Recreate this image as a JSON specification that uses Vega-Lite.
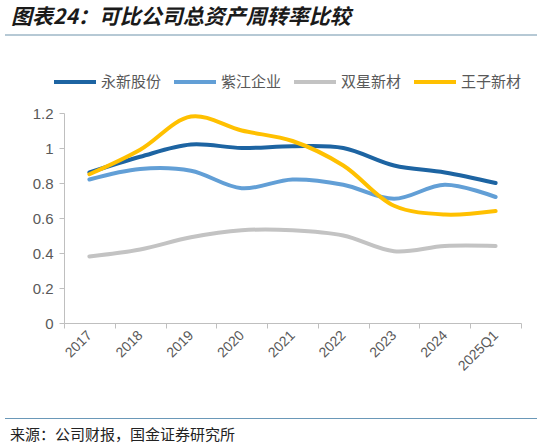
{
  "$schema": "https://vega.github.io/schema/vega-lite/v6.json",
  "background": "white",
  "padding": {"left": 5, "top": 7, "right": 5, "bottom": 0},
  "spacing": 35,
  "title": {"text": "图表24：可比公司总资产周转率比较", "anchor": "start", "frame": "bounds", "font": "Noto Sans CJK SC", "fontSize": 21, "fontWeight": "bold", "fontStyle": "italic", "color": "#1a1a1a", "offset": 6, "dx": 6},
  "config": {"view": {"stroke": null}, "font": "Liberation Sans"},
  "vconcat": [
    {
      "spacing": 70,
      "vconcat": [
        {
          "width": 532,
          "height": 2,
          "view": {"fill": "#b6c9d5", "stroke": null},
          "data": {"values": [{"k": 1}]},
          "mark": {"type": "point", "opacity": 0, "size": 0},
          "encoding": {}
        },
        {
          "spacing": 0,
          "hconcat": [
            {
              "width": 1,
              "height": 1,
              "data": {"values": [{"k": 1}]},
              "mark": {"type": "point", "opacity": 0, "size": 0},
              "encoding": {}
            },
            {
              "width": 457,
              "height": 210,
              "data": {"values": [
                {"period": "2017", "company": "永新股份", "value": 0.86},
                {"period": "2018", "company": "永新股份", "value": 0.95},
                {"period": "2019", "company": "永新股份", "value": 1.02},
                {"period": "2020", "company": "永新股份", "value": 1.00},
                {"period": "2021", "company": "永新股份", "value": 1.01},
                {"period": "2022", "company": "永新股份", "value": 1.00},
                {"period": "2023", "company": "永新股份", "value": 0.90},
                {"period": "2024", "company": "永新股份", "value": 0.86},
                {"period": "2025Q1", "company": "永新股份", "value": 0.80},
                {"period": "2017", "company": "紫江企业", "value": 0.82},
                {"period": "2018", "company": "紫江企业", "value": 0.88},
                {"period": "2019", "company": "紫江企业", "value": 0.87},
                {"period": "2020", "company": "紫江企业", "value": 0.77},
                {"period": "2021", "company": "紫江企业", "value": 0.82},
                {"period": "2022", "company": "紫江企业", "value": 0.79},
                {"period": "2023", "company": "紫江企业", "value": 0.71},
                {"period": "2024", "company": "紫江企业", "value": 0.79},
                {"period": "2025Q1", "company": "紫江企业", "value": 0.72},
                {"period": "2017", "company": "双星新材", "value": 0.38},
                {"period": "2018", "company": "双星新材", "value": 0.42},
                {"period": "2019", "company": "双星新材", "value": 0.49},
                {"period": "2020", "company": "双星新材", "value": 0.53},
                {"period": "2021", "company": "双星新材", "value": 0.53},
                {"period": "2022", "company": "双星新材", "value": 0.50},
                {"period": "2023", "company": "双星新材", "value": 0.41},
                {"period": "2024", "company": "双星新材", "value": 0.44},
                {"period": "2025Q1", "company": "双星新材", "value": 0.44},
                {"period": "2017", "company": "王子新材", "value": 0.85},
                {"period": "2018", "company": "王子新材", "value": 0.99},
                {"period": "2019", "company": "王子新材", "value": 1.18},
                {"period": "2020", "company": "王子新材", "value": 1.10},
                {"period": "2021", "company": "王子新材", "value": 1.04},
                {"period": "2022", "company": "王子新材", "value": 0.90},
                {"period": "2023", "company": "王子新材", "value": 0.67},
                {"period": "2024", "company": "王子新材", "value": 0.62},
                {"period": "2025Q1", "company": "王子新材", "value": 0.64}
              ]},
              "mark": {"type": "line", "interpolate": "catmull-rom", "strokeWidth": 4, "strokeCap": "round"},
              "encoding": {
                "x": {
                  "field": "period", "type": "ordinal", "sort": null,
                  "scale": {"type": "band", "paddingInner": 0, "paddingOuter": 0},
                  "axis": {"title": null, "labelAngle": -45, "labelAlign": "right", "labelBaseline": "middle", "tickBand": "extent", "domainColor": "#bfbfbf", "tickColor": "#bfbfbf", "tickSize": 5, "labelFontSize": 14, "labelColor": "#595959", "labelPadding": 5, "minExtent": 60}
                },
                "y": {
                  "field": "value", "type": "quantitative",
                  "scale": {"domain": [0, 1.2], "nice": false},
                  "axis": {"title": null, "values": [0, 0.2, 0.4, 0.6, 0.8, 1, 1.2], "format": "~g", "grid": false, "domainColor": "#bfbfbf", "tickColor": "#bfbfbf", "tickSize": 5, "labelFontSize": 15, "labelColor": "#595959", "labelPadding": 6, "minExtent": 58}
                },
                "color": {
                  "field": "company", "type": "nominal",
                  "scale": {"domain": ["永新股份", "紫江企业", "双星新材", "王子新材"], "range": ["#1d64a2", "#629fd6", "#c3c3c3", "#ffc000"]},
                  "legend": {"orient": "none", "legendX": 47, "legendY": 25, "direction": "horizontal", "title": null, "symbolType": "stroke", "symbolSize": 1764, "symbolStrokeWidth": 4, "labelFont": "Noto Sans CJK SC", "labelFontSize": 15, "labelColor": "#595959", "labelOffset": 3, "columnPadding": 4, "padding": 0}
                }
              }
            }
          ]
        }
      ]
    },
    {
      "width": 532,
      "height": 1,
      "view": {"fill": "#6a98b8", "stroke": null},
      "title": {"text": "来源：公司财报，国金证券研究所", "orient": "bottom", "anchor": "start", "font": "Noto Sans CJK SC", "fontSize": 15, "fontWeight": "normal", "color": "#222222", "offset": 9, "dx": 5},
      "data": {"values": [{"k": 1}]},
      "mark": {"type": "point", "opacity": 0, "size": 0},
      "encoding": {}
    }
  ]
}
